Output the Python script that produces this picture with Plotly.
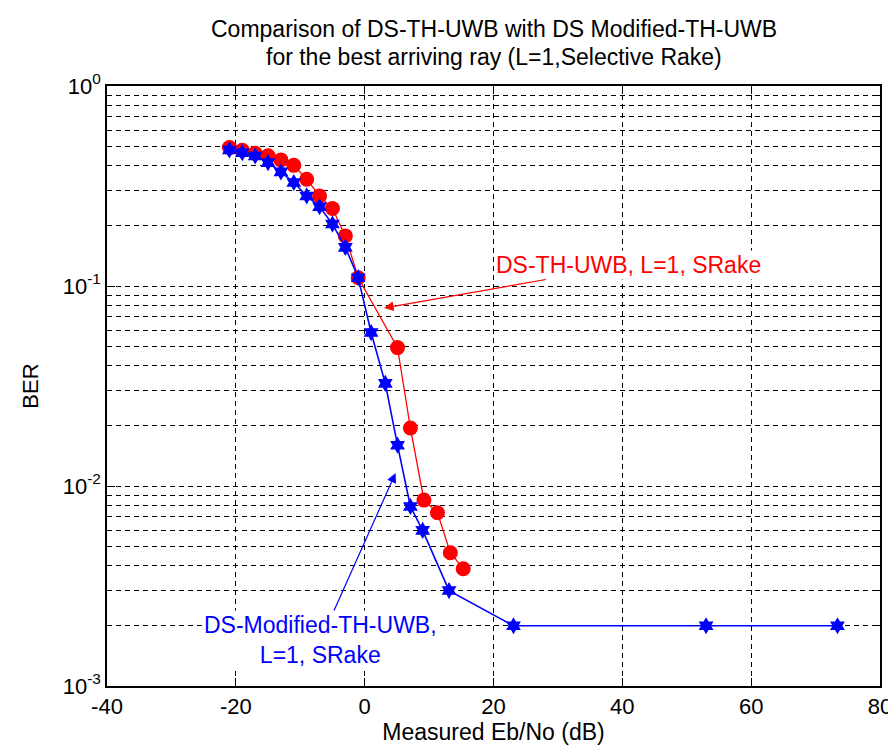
import plotly.graph_objects as go

# ---------------- data ----------------
red_x = [-21, -19, -17, -15, -13, -11, -9, -7, -5, -3, -1, 5.1, 7.1, 9.2, 11.3, 13.3, 15.3]
red_ber = [0.492, 0.477, 0.461, 0.448, 0.427, 0.401, 0.342, 0.282, 0.244, 0.178, 0.110,
           0.0492, 0.0195, 0.0085, 0.00735, 0.00464, 0.00386]

blue_x = [-21, -19, -17, -15, -13, -11, -9, -7, -5, -3, -1, 1.0, 3.2, 5.1, 7.1, 9.0, 13.1, 23.1, 53.0, 73.4]
blue_ber = [0.479, 0.464, 0.447, 0.414, 0.372, 0.329, 0.282, 0.249, 0.204, 0.156, 0.110,
            0.0585, 0.0326, 0.0160, 0.0079, 0.0060, 0.0030, 0.002, 0.002, 0.002]

x_ticks = [-40, -20, 0, 20, 40, 60, 80]
x_ticktext = ["-40", "-20", "0", "20", "40", "60", "80"]
y_ticks = [1e-3, 1e-2, 1e-1, 1]
y_ticktext = ["10<sup>-3</sup>", "10<sup>-2</sup>", "10<sup>-1</sup>", "10<sup>0</sup>"]

title_line1 = "Comparison of DS-TH-UWB with DS Modified-TH-UWB"
title_line2 = "for the best arriving ray (L=1,Selective Rake)"
red_label = "DS-TH-UWB, L=1, SRake"
blue_label = "DS-Modified-TH-UWB,<br>L=1, SRake"

FONT = "Liberation Sans, Arial, sans-serif"

minor_vals = [m * 10.0 ** e for e in (-3, -2, -1) for m in range(2, 10)]

fig = go.Figure()
fig.add_trace(go.Scatter(
    x=red_x, y=red_ber, mode="lines+markers",
    line=dict(color="#FF0000", width=1.3),
    marker=dict(symbol="circle", size=15, color="#FF0000"),
    showlegend=False))
fig.add_trace(go.Scatter(
    x=blue_x, y=blue_ber, mode="lines+markers",
    line=dict(color="#0000FF", width=1.6),
    marker=dict(symbol="hexagram", size=13, color="#0000FF"),
    showlegend=False))

fig.add_annotation(
    x=3.0, y=-1.11, xref="x", yref="y",
    ax=40.9, ay=-0.895, axref="x", ayref="y",
    text=red_label, showarrow=True, arrowhead=2, arrowsize=1.6, arrowwidth=1.2,
    arrowcolor="#FF0000", bgcolor="white",
    font=dict(family=FONT, size=23, color="#FF0000"))
fig.add_annotation(
    x=4.8, y=-1.935, xref="x", yref="y",
    ax=-6.8, ay=-2.77, axref="x", ayref="y",
    text=blue_label, showarrow=True, arrowhead=2, arrowsize=1.6, arrowwidth=1.2,
    arrowcolor="#0000FF", bgcolor="white",
    font=dict(family=FONT, size=23, color="#0000FF"))

# title lines as paper-anchored annotations above the plot area
fig.add_annotation(
    x=0.5, y=1.0945, xref="paper", yref="paper", xanchor="center", yanchor="middle",
    text=title_line1, showarrow=False, font=dict(family=FONT, size=23, color="black"))
fig.add_annotation(
    x=0.5, y=1.049, xref="paper", yref="paper", xanchor="center", yanchor="middle",
    text=title_line2, showarrow=False, font=dict(family=FONT, size=23, color="black"))

fig.update_layout(
    width=896, height=746,
    margin=dict(l=99, r=17, t=78, b=68),
    paper_bgcolor="white", plot_bgcolor="white",
    font=dict(family=FONT, size=22, color="black"),
)
fig.update_xaxes(
    range=[-40, 80], tickvals=x_ticks, ticktext=x_ticktext,
    ticks="inside", ticklen=8, tickcolor="black",
    showline=True, linecolor="black", linewidth=1.5, mirror="ticks",
    showgrid=True, gridcolor="black", gridwidth=1, griddash="5px,4px",
    zeroline=False,
    title=dict(text="Measured Eb/No (dB)", font=dict(family=FONT, size=23), standoff=6),
    tickfont=dict(family=FONT, size=22, color="black"))
fig.update_yaxes(
    type="log", range=[-3, 0], tickvals=y_ticks, ticktext=y_ticktext,
    ticks="inside", ticklen=8, tickcolor="black",
    showline=True, linecolor="black", linewidth=1.5, mirror="ticks",
    showgrid=True, gridcolor="black", gridwidth=1, griddash="5px,4px",
    minor=dict(tickvals=minor_vals, ticks="inside", ticklen=4, tickcolor="black",
               showgrid=True, gridcolor="black", gridwidth=1, griddash="5px,4px"),
    zeroline=False,
    title=dict(text="BER", font=dict(family=FONT, size=22), standoff=18),
    tickfont=dict(family=FONT, size=22, color="black"))

fig.write_html("out.html")
